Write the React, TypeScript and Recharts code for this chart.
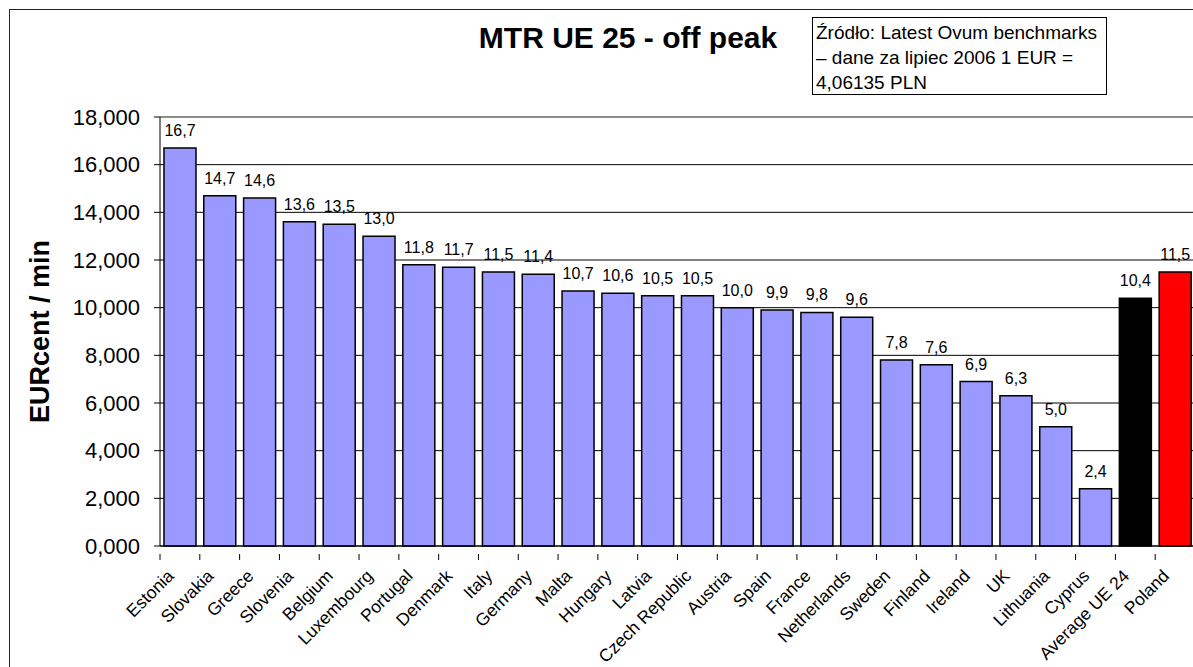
import React from "react";
import { Bar, BarChart, CartesianGrid, Cell, LabelList, ReferenceLine, XAxis, YAxis } from "recharts";

const countries = [
  "Estonia",
  "Slovakia",
  "Greece",
  "Slovenia",
  "Belgium",
  "Luxembourg",
  "Portugal",
  "Denmark",
  "Italy",
  "Germany",
  "Malta",
  "Hungary",
  "Latvia",
  "Czech Republic",
  "Austria",
  "Spain",
  "France",
  "Netherlands",
  "Sweden",
  "Finland",
  "Ireland",
  "UK",
  "Lithuania",
  "Cyprus",
  "Average UE 24",
  "Poland",
];

const mtrOffPeak = [
  16.7, 14.7, 14.6, 13.6, 13.5, 13.0, 11.8, 11.7, 11.5, 11.4, 10.7, 10.6, 10.5, 10.5, 10.0, 9.9, 9.8, 9.6,
  7.8, 7.6, 6.9, 6.3, 5.0, 2.4, 10.4, 11.5,
];

const yTicks = [0, 2, 4, 6, 8, 10, 12, 14, 16, 18];

const data = countries.map((country, i) => ({ country, value: mtrOffPeak[i] }));

const FONT = "'Liberation Sans', Arial, sans-serif";

const comma = (v: number, digits: number) => v.toFixed(digits).replace(".", ",");

const barFill = (country: string) =>
  country === "Poland" ? "#ff0000" : country === "Average UE 24" ? "#000000" : "#9999ff";

// Excel-style ticks sit between categories, labels slanted at 45 degrees
function CountryTick(props: any) {
  const { x, y, payload } = props;
  const half = payload?.offset ?? 19.9;
  const ax = x - 5;
  const ay = y + 23;
  return (
    <g>
      <line x1={x - half} y1={y} x2={x - half} y2={y + 6} stroke="#000" />
      <text
        x={ax}
        y={ay}
        transform={`rotate(-45 ${ax} ${ay})`}
        textAnchor="end"
        fontSize={17.5}
        fontFamily={FONT}
        fill="#000"
      >
        {payload.value}
      </text>
    </g>
  );
}

function AxisTitle({ viewBox }: any) {
  const cx = viewBox.x + 30;
  const cy = viewBox.y + viewBox.height / 2;
  return (
    <text
      x={cx}
      y={cy}
      transform={`rotate(-90 ${cx} ${cy})`}
      textAnchor="middle"
      dominantBaseline="central"
      fontSize={27}
      fontWeight="bold"
      fontFamily={FONT}
      fill="#000"
    >
      EURcent / min
    </text>
  );
}

export default function App() {
  return (
    <div
      style={{
        position: "absolute",
        left: 0,
        top: 0,
        width: 1193,
        height: 667,
        overflow: "hidden",
        background: "#fff",
        fontFamily: FONT,
      }}
    >
      <div
        style={{
          position: "absolute",
          left: 9,
          top: 9,
          width: 1300,
          height: 800,
          border: "1px solid #222",
        }}
      />
      <div
        style={{
          position: "absolute",
          left: 0,
          top: 20,
          width: 1256,
          textAlign: "center",
          fontSize: 30,
          fontWeight: "bold",
          lineHeight: "36px",
        }}
      >
        MTR UE 25 - off peak
      </div>
      <div
        style={{
          position: "absolute",
          left: 812,
          top: 17,
          width: 295,
          height: 78,
          boxSizing: "border-box",
          border: "1px solid #000",
          padding: "2px 0 0 3px",
          fontSize: 19,
          lineHeight: "25px",
          whiteSpace: "nowrap",
        }}
      >
        Źródło: Latest Ovum benchmarks
        <br />– dane za lipiec 2006 1 EUR =
        <br />
        4,06135 PLN
      </div>
      <div style={{ position: "absolute", left: 0, top: 0 }}>
        <BarChart
          width={1196}
          height={667}
          data={data}
          margin={{ top: 117, right: 1, left: 10, bottom: 0 }}
          barCategoryGap="10%"
        >
          <CartesianGrid vertical={false} stroke="#000" strokeOpacity={1} />
          <ReferenceLine y={18} stroke="#999" />
          <XAxis
            dataKey="country"
            interval={0}
            height={121}
            tickLine={false}
            axisLine={{ stroke: "#000" }}
            tick={<CountryTick />}
          />
          <YAxis
            width={150}
            domain={[0, 18]}
            ticks={yTicks}
            tickFormatter={(v) => comma(Number(v), 3)}
            tick={{ fontSize: 22, fill: "#000", fontFamily: FONT }}
            tickLine={{ stroke: "#000" }}
            tickSize={6}
            tickMargin={14}
            axisLine={{ stroke: "#000" }}
            label={<AxisTitle />}
          />
          <Bar dataKey="value" stroke="#000" strokeWidth={1.5} isAnimationActive={false}>
            {data.map((d) => (
              <Cell key={d.country} fill={barFill(d.country)} />
            ))}
            <LabelList
              dataKey="value"
              position="top"
              offset={12}
              formatter={(v: any) => comma(Number(v), 1)}
              style={{ fontSize: 16, fill: "#000", fontFamily: FONT }}
            />
          </Bar>
        </BarChart>
      </div>
    </div>
  );
}
